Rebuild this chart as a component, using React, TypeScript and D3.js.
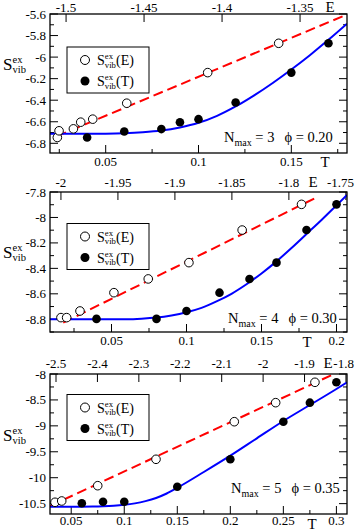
import React from 'react';
import * as d3 from 'd3';

// ---- panel 1 : Nmax = 3, phi = 0.20 ----
const p1OpenE = [-1.5056, -1.5045, -1.4953, -1.4906, -1.4829, -1.4611, -1.4092, -1.3637];
const p1OpenS = [-6.746, -6.684, -6.666, -6.604, -6.576, -6.428, -6.144, -5.872];
const p1FilledT = [0.04, 0.06, 0.08, 0.09, 0.1, 0.12, 0.15, 0.17];
const p1FilledS = [-6.746, -6.69, -6.668, -6.604, -6.576, -6.422, -6.144, -5.872];
const p1DashE = [-1.506, -1.32];
const p1DashS = [-6.735, -5.605];
const p1FitT = [0.02, 0.04, 0.05, 0.06, 0.07, 0.08, 0.09, 0.1, 0.11, 0.12, 0.13, 0.14, 0.15, 0.16, 0.17, 0.18];
const p1FitS = [-6.712, -6.712, -6.711, -6.707, -6.698, -6.682, -6.653, -6.61, -6.545, -6.458, -6.355, -6.24, -6.115, -5.982, -5.84, -5.69];
const p1TTicks = [0.05, 0.1, 0.15];
const p1ETicks = [-1.5, -1.45, -1.4, -1.35];
const p1STicks = [-6.8, -6.6, -6.4, -6.2, -6, -5.8, -5.6];

// ---- panel 2 : Nmax = 4, phi = 0.30 ----
const p2OpenE = [-2.0, -1.995, -1.9833, -1.9535, -1.9234, -1.8877, -1.841, -1.7889];
const p2OpenS = [-8.787, -8.787, -8.735, -8.591, -8.483, -8.355, -8.099, -7.897];
const p2FilledT = [0.04, 0.08, 0.1, 0.122, 0.142, 0.16, 0.18, 0.2];
const p2FilledS = [-8.797, -8.797, -8.735, -8.591, -8.483, -8.355, -8.099, -7.897];
const p2DashE = [-1.998, -1.7772];
const p2DashS = [-8.827, -7.849];
const p2FitT = [0.009, 0.06, 0.07, 0.08, 0.09, 0.1, 0.11, 0.12, 0.13, 0.14, 0.15, 0.16, 0.17, 0.18, 0.19, 0.2, 0.207];
const p2FitS = [-8.8, -8.8, -8.796, -8.787, -8.77, -8.745, -8.71, -8.66, -8.6, -8.525, -8.44, -8.345, -8.24, -8.13, -8.02, -7.905, -7.824];
const p2TTicks = [0.05, 0.1, 0.15, 0.2];
const p2ETicks = [-2, -1.95, -1.9, -1.85, -1.8, -1.75];
const p2STicks = [-8.8, -8.6, -8.4, -8.2, -8, -7.8];

// ---- panel 3 : Nmax = 5, phi = 0.35 ----
const p3OpenE = [-2.5024, -2.4862, -2.3993, -2.2586, -2.0696, -1.9697, -1.8749];
const p3OpenS = [-10.474, -10.449, -10.154, -9.645, -8.92, -8.553, -8.16];
const p3FilledT = [0.06, 0.08, 0.1, 0.15, 0.2, 0.25, 0.275, 0.3];
const p3FilledS = [-10.494, -10.463, -10.463, -10.174, -9.645, -8.92, -8.553, -8.16];
const p3DashE = [-2.5145, -1.8307];
const p3DashS = [-10.546, -8.006];
const p3FitT = [0.03, 0.06, 0.07, 0.08, 0.09, 0.1, 0.11, 0.12, 0.13, 0.14, 0.15, 0.175, 0.2, 0.225, 0.25, 0.275, 0.3, 0.31];
const p3FitS = [-10.56, -10.559, -10.556, -10.55, -10.54, -10.523, -10.495, -10.452, -10.392, -10.305, -10.195, -9.89, -9.575, -9.24, -8.906, -8.598, -8.289, -8.16];
const p3TTicks = [0.05, 0.1, 0.15, 0.2, 0.25, 0.3];
const p3ETicks = [-2.5, -2.4, -2.3, -2.2, -2.1, -2, -1.9, -1.8];
const p3STicks = [-10.5, -10, -9.5, -9, -8.5, -8];

const FONT = '"Liberation Serif", "Times New Roman", serif';
const L = 50, R = 347;

const panels = [
  {
    top: 14, bottom: 153, t: [0.02, 0.18], e: [-1.5103, -1.3199], s: [-6.89, -5.6],
    tTicks: p1TTicks, tMinor: 0.025, eTicks: p1ETicks, sTicks: p1STicks, sMinor: 0.1,
    openE: p1OpenE, openS: p1OpenS, filledT: p1FilledT, filledS: p1FilledS,
    dashE: p1DashE, dashS: p1DashS, fitT: p1FitT, fitS: p1FitS,
    nmax: '3', phi: '0.20', annX: 224, annY: 142, legTop: 47,
    topLab: 11.5, botLab: 166, eX: 330, tX: 325, tY: 167, sY: 70,
  },
  {
    top: 192, bottom: 332, t: [0.009, 0.207], e: [-2.0096, -1.749], s: [-8.9, -7.8],
    tTicks: p2TTicks, tMinor: 0.025, eTicks: p2ETicks, sTicks: p2STicks, sMinor: 0.1,
    openE: p2OpenE, openS: p2OpenS, filledT: p2FilledT, filledS: p2FilledS,
    dashE: p2DashE, dashS: p2DashS, fitT: p2FitT, fitS: p2FitS,
    nmax: '4', phi: '0.30', annX: 228, annY: 322.5, legTop: 223.5,
    topLab: 186.5, botLab: 345, eX: 313, tX: 307, tY: 347, sY: 258,
  },
  {
    top: 374, bottom: 514, t: [0.03, 0.31], e: [-2.5145, -1.7975], s: [-10.7, -8],
    tTicks: p3TTicks, tMinor: 0.025, eTicks: p3ETicks, sTicks: p3STicks, sMinor: 0.25,
    openE: p3OpenE, openS: p3OpenS, filledT: p3FilledT, filledS: p3FilledS,
    dashE: p3DashE, dashS: p3DashS, fitT: p3FitT, fitS: p3FitS,
    nmax: '5', phi: '0.35', annX: 231, annY: 493, legTop: 394.5,
    topLab: 368, botLab: 525, eX: 328, tX: 312, tY: 528.5, sY: 441,
  },
];

const fmt = (v: number) => String(+v.toFixed(3));

const minorTicks = (dom: number[], step: number, majors: number[]) =>
  d3.range(Math.ceil(Math.min(dom[0], dom[1]) / step) * step, Math.max(dom[0], dom[1]) + 1e-9, step)
    .filter((v) => !majors.some((m) => Math.abs(m - v) < step / 4));

function SLabel({ x, y, size, sub, arg }: any) {
  const w = size * 0.56;
  const small = size * 0.62;
  return (
    <g fontFamily={FONT} fill="#000">
      <text x={x} y={y} fontSize={size}>S</text>
      <text x={x + w} y={y - size * 0.42} fontSize={small}>ex</text>
      <text x={x + w} y={y + size * 0.2} fontSize={small}>{sub}</text>
      {arg ? <text x={x + w + size * 0.8} y={y} fontSize={size}>{arg}</text> : null}
    </g>
  );
}

function Panel({ cfg, idx }: any) {
  const x = d3.scaleLinear().domain(cfg.t).range([L, R]);
  const xe = d3.scaleLinear().domain(cfg.e).range([L, R]);
  const y = d3.scaleLinear().domain(cfg.s).range([cfg.bottom, cfg.top]);
  const clip = `clip${idx}`;

  const fitLine = d3.line<number>()
    .x((d, i) => x(cfg.fitT[i]))
    .y((d) => y(d))
    .curve(d3.curveMonotoneX);
  const dashLine = d3.line<number>()
    .x((d, i) => xe(cfg.dashE[i]))
    .y((d) => y(d));

  const tMin = minorTicks(cfg.t, cfg.tMinor, cfg.tTicks);
  const sMin = minorTicks(cfg.s, cfg.sMinor, cfg.sTicks);
  const MAJ = 8, MIN = 4;
  const lx = 67, lw = 82, lh = 46;

  return (
    <g>
      <defs>
        <clipPath id={clip}>
          <rect x={L} y={cfg.top} width={R - L} height={cfg.bottom - cfg.top} />
        </clipPath>
      </defs>

      {/* ticks */}
      <g stroke="#000" strokeWidth={1}>
        {cfg.tTicks.map((v: number) => (
          <line key={'tb' + v} x1={x(v)} x2={x(v)} y1={cfg.bottom} y2={cfg.bottom - MAJ} />
        ))}
        {tMin.map((v: number) => (
          <line key={'tm' + v} x1={x(v)} x2={x(v)} y1={cfg.bottom} y2={cfg.bottom - MIN} />
        ))}
        {cfg.eTicks.map((v: number) => (
          <line key={'et' + v} x1={xe(v)} x2={xe(v)} y1={cfg.top} y2={cfg.top + MAJ} />
        ))}
        {cfg.sTicks.map((v: number) => (
          <g key={'s' + v}>
            <line x1={L} x2={L + MAJ} y1={y(v)} y2={y(v)} />
            <line x1={R} x2={R - MAJ} y1={y(v)} y2={y(v)} />
          </g>
        ))}
        {sMin.map((v: number) => (
          <g key={'sm' + v}>
            <line x1={L} x2={L + MIN} y1={y(v)} y2={y(v)} />
            <line x1={R} x2={R - MIN} y1={y(v)} y2={y(v)} />
          </g>
        ))}
      </g>

      {/* tick labels */}
      <g fontFamily={FONT} fontSize={13} fill="#000">
        {cfg.tTicks.map((v: number) => (
          <text key={'tl' + v} x={x(v)} y={cfg.botLab} textAnchor="middle">{fmt(v)}</text>
        ))}
        {cfg.eTicks.map((v: number) => {
          const s = fmt(v);
          const half = s.length * 3.1;
          return (
            <text key={'el' + v} x={Math.min(xe(v), 356 - half)} y={cfg.topLab} textAnchor="middle">{s}</text>
          );
        })}
        {cfg.sTicks.map((v: number) => (
          <text key={'sl' + v} x={46} y={y(v) + 4.5} textAnchor="end">{fmt(v)}</text>
        ))}
      </g>
      <text x={cfg.eX} y={cfg.topLab} fontFamily={FONT} fontSize={15} textAnchor="middle">E</text>
      <text x={cfg.tX} y={cfg.tY} fontFamily={FONT} fontSize={15} textAnchor="middle">T</text>
      <SLabel x={3} y={cfg.sY} size={17} sub="vib" />

      {/* curves */}
      <g clipPath={`url(#${clip})`}>
        <path d={dashLine(cfg.dashS) || ''} fill="none" stroke="#ff0000" strokeWidth={2} strokeDasharray="10,5" />
        <path d={fitLine(cfg.fitS) || ''} fill="none" stroke="#0000ff" strokeWidth={2} />
      </g>

      {/* points */}
      {cfg.filledS.map((s: number, i: number) => (
        <circle key={'f' + i} cx={x(cfg.filledT[i])} cy={y(s)} r={4.3} fill="#000" />
      ))}
      {cfg.openS.map((s: number, i: number) => (
        <circle key={'o' + i} cx={xe(cfg.openE[i])} cy={y(s)} r={4.3} fill="#fff" stroke="#000" strokeWidth={1} />
      ))}

      {/* legend */}
      <rect x={lx} y={cfg.legTop} width={lw} height={lh} fill="#fff" stroke="#000" strokeWidth={1} />
      <circle cx={lx + 18} cy={cfg.legTop + 13} r={4.5} fill="#fff" stroke="#000" strokeWidth={1} />
      <circle cx={lx + 18} cy={cfg.legTop + 34} r={4.5} fill="#000" />
      <SLabel x={lx + 30} y={cfg.legTop + 18} size={14} sub="vib" arg="(E)" />
      <SLabel x={lx + 30} y={cfg.legTop + 39} size={14} sub="vib" arg="(T)" />

      {/* annotation */}
      <text x={cfg.annX} y={cfg.annY} fontFamily={FONT} fontSize={14.5} xmlSpace="preserve">
        N<tspan fontSize={10} dy={4}>max</tspan><tspan dy={-4}>{' = ' + cfg.nmax}</tspan>
        <tspan dx={10}>{'\u03d5 = ' + cfg.phi}</tspan>
      </text>

      {/* frame */}
      <rect x={L} y={cfg.top} width={R - L} height={cfg.bottom - cfg.top} fill="none" stroke="#000" strokeWidth={1.3} />
    </g>
  );
}

export default function App() {
  return (
    <svg width={357} height={531} style={{ display: 'block', position: 'absolute', left: 0, top: 0, background: '#fff' }}>
      <rect width={357} height={531} fill="#fff" />
      {panels.map((p, i) => <Panel key={i} cfg={p} idx={i} />)}
    </svg>
  );
}
